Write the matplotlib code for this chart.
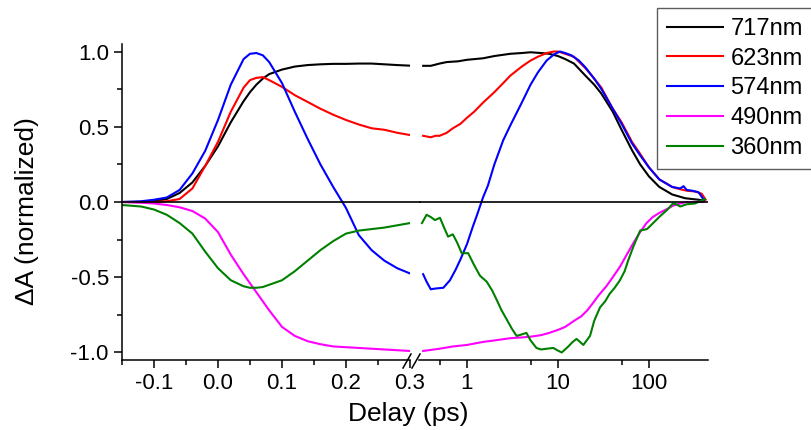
import matplotlib
matplotlib.use('Agg')
import matplotlib.pyplot as plt
from matplotlib.lines import Line2D
from matplotlib.ticker import MultipleLocator, FixedLocator, FixedFormatter, FormatStrFormatter

plt.rcParams['font.family'] = ['Liberation Sans', 'DejaVu Sans']
plt.rcParams['axes.unicode_minus'] = False

# left (linear) part, delay in ps
x_lin = [-0.15, -0.12, -0.1, -0.08, -0.06, -0.04, -0.02, 0.0, 0.02, 0.04, 0.05, 0.06, 0.07,
         0.08, 0.1, 0.12, 0.14, 0.16, 0.18, 0.2, 0.22, 0.24, 0.26, 0.28, 0.3]
y717_lin = [0.0, 0.0, 0.005, 0.02, 0.06, 0.13, 0.24, 0.37, 0.53, 0.67, 0.73, 0.78, 0.82,
            0.85, 0.88, 0.90, 0.91, 0.915, 0.918, 0.918, 0.92, 0.92, 0.915, 0.91, 0.906]
y623_lin = [0.0, 0.0, 0.0, 0.005, 0.02, 0.09, 0.24, 0.40, 0.60, 0.76, 0.81, 0.825, 0.83,
            0.81, 0.765, 0.71, 0.665, 0.62, 0.58, 0.545, 0.515, 0.49, 0.48, 0.46, 0.445]
y574_lin = [0.0, 0.005, 0.015, 0.03, 0.08, 0.19, 0.34, 0.545, 0.78, 0.95, 0.985, 0.99, 0.975,
            0.93, 0.79, 0.60, 0.42, 0.25, 0.10, -0.04, -0.22, -0.32, -0.39, -0.44, -0.475]
y490_lin = [0.0, -0.005, -0.01, -0.02, -0.035, -0.06, -0.11, -0.20, -0.35, -0.48, -0.54, -0.60, -0.66,
            -0.72, -0.83, -0.89, -0.925, -0.945, -0.96, -0.965, -0.97, -0.975, -0.98, -0.985, -0.99]
y360_lin = [-0.02, -0.03, -0.05, -0.085, -0.14, -0.21, -0.33, -0.44, -0.52, -0.56, -0.57, -0.57, -0.565,
            -0.55, -0.52, -0.46, -0.39, -0.32, -0.26, -0.21, -0.19, -0.18, -0.17, -0.155, -0.14]

# right (log) part
x717_log = [0.33, 0.4, 0.5, 0.6, 0.8, 1, 1.5, 2, 3, 4, 5, 6.5, 8, 10, 12, 15, 20, 25, 30, 40,
            50, 65, 80, 100, 130, 180, 250, 350, 400]
y717_log = [0.905, 0.905, 0.92, 0.93, 0.935, 0.945, 0.955, 0.97, 0.985, 0.99, 0.995, 0.99, 0.985,
            0.97, 0.95, 0.92, 0.84, 0.78, 0.72, 0.60, 0.48, 0.345, 0.25, 0.17, 0.10, 0.05, 0.025,
            0.015, 0.01]
x623_log = [0.33, 0.4, 0.45, 0.5, 0.6, 0.7, 0.85, 1, 1.2, 1.5, 2, 2.5, 3, 4, 5, 6, 7.5, 9, 10, 12,
            15, 20, 25, 30, 40, 50, 65, 80, 100, 130, 180, 220, 260, 320, 380, 420]
y623_log = [0.44, 0.43, 0.44, 0.44, 0.46, 0.49, 0.52, 0.56, 0.60, 0.66, 0.73, 0.79, 0.84, 0.90,
            0.94, 0.965, 0.99, 1.0, 1.0, 0.985, 0.965, 0.89, 0.82, 0.76, 0.62, 0.53, 0.40, 0.32,
            0.23, 0.15, 0.10, 0.085, 0.075, 0.07, 0.055, 0.015]
x574_log = [0.33, 0.36, 0.4, 0.45, 0.55, 0.65, 0.75, 0.85, 1, 1.15, 1.3, 1.5, 1.7, 2, 2.5, 3, 4,
            5, 6, 7.5, 9, 10.5, 12, 14, 17, 20, 25, 30, 40, 50, 65, 80, 100, 130, 180, 220, 240,
            260, 300, 350, 400]
y574_log = [-0.48, -0.53, -0.58, -0.575, -0.57, -0.52, -0.45, -0.38, -0.28, -0.17, -0.08, 0.03,
            0.11, 0.25, 0.41, 0.51, 0.66, 0.78, 0.86, 0.94, 0.98, 1.0, 0.99, 0.975, 0.94, 0.895,
            0.82, 0.75, 0.62, 0.52, 0.39, 0.31, 0.23, 0.15, 0.10, 0.09, 0.105, 0.08, 0.075, 0.065,
            0.015]
x490_log = [0.33, 0.5, 0.7, 1, 1.5, 2, 3, 4, 5, 6.5, 8, 10, 12, 15, 18, 21, 24, 28, 34, 40, 48,
            57, 67, 80, 94, 110, 132, 160, 183, 220, 260, 320, 400]
y490_log = [-0.99, -0.975, -0.96, -0.95, -0.93, -0.92, -0.905, -0.90, -0.895, -0.885, -0.87,
            -0.85, -0.83, -0.79, -0.76, -0.72, -0.675, -0.62, -0.56, -0.50, -0.43, -0.35, -0.275,
            -0.20, -0.14, -0.10, -0.07, -0.045, -0.025, -0.01, 0.0, 0.0, 0.0]
x360_log = [0.32, 0.36, 0.4, 0.445, 0.505, 0.56, 0.62, 0.7, 0.78, 0.875, 1.03, 1.2, 1.39, 1.65,
            1.9, 2.12, 2.4, 2.73, 3.1, 3.51, 4.0, 4.5, 5.0, 5.8, 6.5, 7.5, 8.9, 9.8, 11, 13, 14.5,
            16, 17.5, 19, 22.5, 25, 29, 33, 37, 42, 48, 54, 59, 68, 80, 95, 103, 120, 132, 160,
            183, 200, 220, 260, 320, 380, 410]
y360_log = [-0.14, -0.085, -0.10, -0.12, -0.105, -0.17, -0.23, -0.215, -0.27, -0.34, -0.34,
            -0.42, -0.49, -0.53, -0.59, -0.65, -0.72, -0.78, -0.84, -0.89, -0.88, -0.87, -0.92,
            -0.97, -0.98, -0.975, -0.97, -0.985, -1.0, -0.96, -0.93, -0.91, -0.93, -0.95, -0.89,
            -0.79, -0.70, -0.66, -0.61, -0.57, -0.52, -0.46, -0.39, -0.29, -0.19, -0.18, -0.16,
            -0.12, -0.095, -0.05, -0.01, -0.015, -0.03, -0.015, -0.01, 0.01, 0.02]

labels = ['717nm', '623nm', '574nm', '490nm', '360nm']
colors = ['black', '#ff0000', '#0000ff', '#ff00ff', '#008000']
lin_y = [y717_lin, y623_lin, y574_lin, y490_lin, y360_lin]
log_x = [x717_log, x623_log, x574_log, x490_log, x360_log]
log_y = [y717_log, y623_log, y574_log, y490_log, y360_log]

W, H = 811, 430
fig = plt.figure(figsize=(W / 100, H / 100), dpi=100)
bottom = 70 / H
height = 316 / H
ax1 = fig.add_axes([122 / W, bottom, 288 / W, height])
ax2 = fig.add_axes([419.4 / W, bottom, 289 / W, height])

for c, lab, yl, xg, yg in zip(colors, labels, lin_y, log_x, log_y):
    ax1.plot(x_lin, yl, color=c, lw=1.5, label=lab)
    ax2.plot(xg, yg, color=c, lw=1.5)

ax1.axhline(0, xmin=0, xmax=1.035, color='black', lw=1.2, clip_on=False)
ax2.axhline(0, color='black', lw=1.2)

for ax in (ax1, ax2):
    ax.set_ylim(-1.05, 1.05)
    ax.spines['top'].set_visible(False)
    ax.spines['right'].set_visible(False)
    ax.spines['bottom'].set_linewidth(1.1)
    ax.tick_params(which='major', direction='out', length=6, width=1.1, labelsize=16)
    ax.tick_params(which='minor', direction='out', length=3.5, width=1.1)
    ax.patch.set_visible(False)

ax1.set_xlim(-0.15, 0.3)
ax1.xaxis.set_major_locator(MultipleLocator(0.1))
ax1.xaxis.set_minor_locator(MultipleLocator(0.05))
ax1.xaxis.set_major_formatter(FormatStrFormatter('%.1f'))
ax1.yaxis.set_major_locator(MultipleLocator(0.5))
ax1.yaxis.set_minor_locator(MultipleLocator(0.25))
ax1.yaxis.set_major_formatter(FormatStrFormatter('%.1f'))
ax1.spines['left'].set_linewidth(1.1)

ax2.set_xscale('log')
ax2.set_xlim(0.3, 450)
ax2.xaxis.set_major_locator(FixedLocator([1, 10, 100]))
ax2.xaxis.set_major_formatter(FixedFormatter(['1', '10', '100']))
ax2.xaxis.set_minor_locator(FixedLocator([0.5, 5, 50]))
ax2.xaxis.set_minor_formatter(FixedFormatter(['', '', '']))
ax2.spines['left'].set_visible(False)
ax2.set_yticks([])

# axis break marks
for x0 in (403, 412):
    fig.add_artist(Line2D([x0 / W, (x0 + 8) / W], [1 - 368 / H, 1 - 354 / H],
                          color='black', lw=1.1, transform=fig.transFigure))

fig.text(408 / W, 1 - 414 / H, 'Delay (ps)', ha='center', va='center', fontsize=19)
fig.text(27 / W, 1 - 211 / H, '\u0394A (normalized)', ha='center', va='center',
         rotation=90, fontsize=19)

leg = fig.legend(loc='upper left', bbox_to_anchor=(656.7 / W, 1 - 8 / H), fontsize=17,
                 frameon=True, fancybox=False, borderaxespad=0, handlelength=2.4,
                 handletextpad=0.3, labelspacing=0.33, borderpad=0.42)
leg.get_frame().set_edgecolor('#333333')
leg.get_frame().set_linewidth(1.0)

fig.savefig('out.png', dpi=100)
